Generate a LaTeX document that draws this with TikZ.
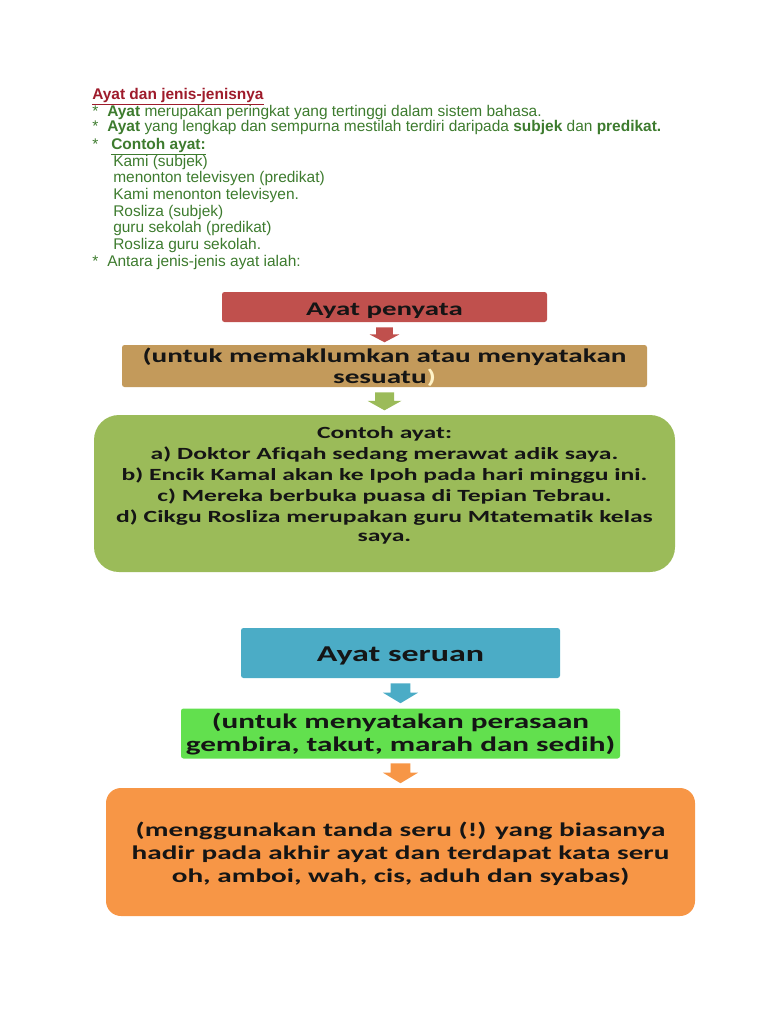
\documentclass[tikz,border=0pt]{standalone}
\usepackage{fontspec}
\setmainfont{Liberation Sans}
\newfontfamily\boxfont[FakeStretch=1.5,Ligatures=NoCommon]{Carlito}
\usetikzlibrary{calc}
\newlength\px \setlength\px{0.75pt}
\definecolor{tgreen}{HTML}{3D7B2E}
\definecolor{tred}{HTML}{9E1B2B}
\definecolor{cred}{HTML}{C0504D}
\definecolor{ctan}{HTML}{C39A5B}
\definecolor{cgreen}{HTML}{9BBB59}
\definecolor{cblue}{HTML}{4BACC6}
\definecolor{cbright}{HTML}{62E04E}
\definecolor{corange}{HTML}{F79646}
\definecolor{cpale}{HTML}{FFF3C8}
\definecolor{ink}{HTML}{151515}
\begin{document}
\begin{tikzpicture}[x=0.75pt,y=-0.75pt,
  line/.style={anchor=base west, inner sep=0pt, text=tgreen, font=\fontsize{11.6}{13}\selectfont},
  box/.style={inner sep=0pt, rounded corners=2.5\px},
  btext/.style={inner sep=0pt, text=ink, align=center},
  pics/barrow/.style={code={\fill[#1] (-9.5,0) -- (9.5,0) -- (9.5,9) -- (17,9) -- (0,19) -- (-17,9) -- (-9.5,9) -- cycle;}}
]
\useasboundingbox (0,0) rectangle (768,1024);

% top text
\node[line] (t1) at (92,99) {\textbf{\textcolor{tred}{\underline{Ayat dan jenis-jenisnya}}}};
\node[line] (b1) at (92,116) {*};
\node[line] (t2) at (107,116) {\textbf{Ayat} merupakan peringkat yang tertinggi dalam sistem bahasa.};
\node[line] (b2) at (92,132) {*};
\node[line] (t3) at (107,132) {\textbf{Ayat} yang lengkap dan sempurna mestilah terdiri daripada \textbf{subjek} dan \textbf{predikat.}};
\node[line] (b3) at (92,149) {*};
\node[line] (t4) at (111,149) {\textbf{\underline{Contoh ayat:}}};
\node[line] (t5) at (113,166) {Kami (subjek)};
\node[line] (t6) at (113,182) {menonton televisyen (predikat)};
\node[line] (t7) at (113,199) {Kami menonton televisyen.};
\node[line] (t8) at (113,216) {Rosliza (subjek)};
\node[line] (t9) at (113,232) {guru sekolah (predikat)};
\node[line] (t10) at (113,249) {Rosliza guru sekolah.};
\node[line] (b4) at (92,266) {*};
\node[line] (t11) at (107,266) {Antara jenis-jenis ayat ialah:};

% Ayat penyata
\node[box, fill=cred, minimum width=325\px, minimum height=30\px] (p1) at (384.5,307) {};
\node[btext, font={\boxfont\bfseries\fontsize{14.45}{18}\selectfont}] (p1t) at ($(p1)+(0,4)$) {Ayat penyata};
\node[box, fill=ctan, minimum width=525\px, minimum height=42\px] (p2) at (384.5,366) {};
\node[btext, font={\boxfont\bfseries\fontsize{14.6}{15.75}\selectfont}] (p2t) at ($(p2)+(0,1)$)
  {(untuk memaklumkan atau menyatakan\\sesuatu\textcolor{cpale}{)}};
\node[box, fill=cgreen, rounded corners=25\px, minimum width=581\px, minimum height=157\px] (p3) at (384.5,493.5) {};
\node[btext, font={\boxfont\bfseries\fontsize{12.8}{15.9}\selectfont}] (p3t) at (384.5,485)
  {Contoh ayat:\\
   a) Doktor Afiqah sedang merawat adik saya.\\
   b) Encik Kamal akan ke Ipoh pada hari minggu ini.\\
   c) Mereka berbuka puasa di Tepian Tebrau.\\
   d) Cikgu Rosliza merupakan guru Mtatematik kelas\\[-3\px]
   saya.};
\pic[xscale=0.88, yscale=0.79] at ($(p1.south)+(0,5)$) {barrow=cred};
\pic[yscale=0.95] at ($(p2.south)+(0,5)$) {barrow=cgreen};

% Ayat seruan
\node[box, fill=cblue, minimum width=319\px, minimum height=50\px] (s1) at (400.5,653) {};
\node[btext, font={\boxfont\bfseries\fontsize{17}{20}\selectfont}] (s1t) at ($(s1)+(0,3)$) {Ayat seruan};
\node[box, fill=cbright, minimum width=439\px, minimum height=50\px] (s2) at (400.5,733.5) {};
\node[btext, font={\boxfont\bfseries\fontsize{15.6}{17.25}\selectfont}] (s2t) at ($(s2)+(0,0.5)$)
  {(untuk menyatakan perasaan\\gembira, takut, marah dan sedih)};
\node[box, fill=corange, rounded corners=15\px, minimum width=589\px, minimum height=128\px] (s3) at (400.5,852) {};
\node[btext, font={\boxfont\bfseries\fontsize{14.6}{17.25}\selectfont}] (s3t) at ($(s3)+(0,1.5)$)
  {(menggunakan tanda seru (!) yang biasanya\\hadir pada akhir ayat dan terdapat kata seru\\oh, amboi, wah, cis, aduh dan syabas)};
\pic[xscale=1.03, yscale=1.05] at ($(s1.south)+(0,5)$) {barrow=cblue};
\pic[xscale=1.03, yscale=1.05] at ($(s2.south)+(0,4.5)$) {barrow=corange};
\end{tikzpicture}
\end{document}
